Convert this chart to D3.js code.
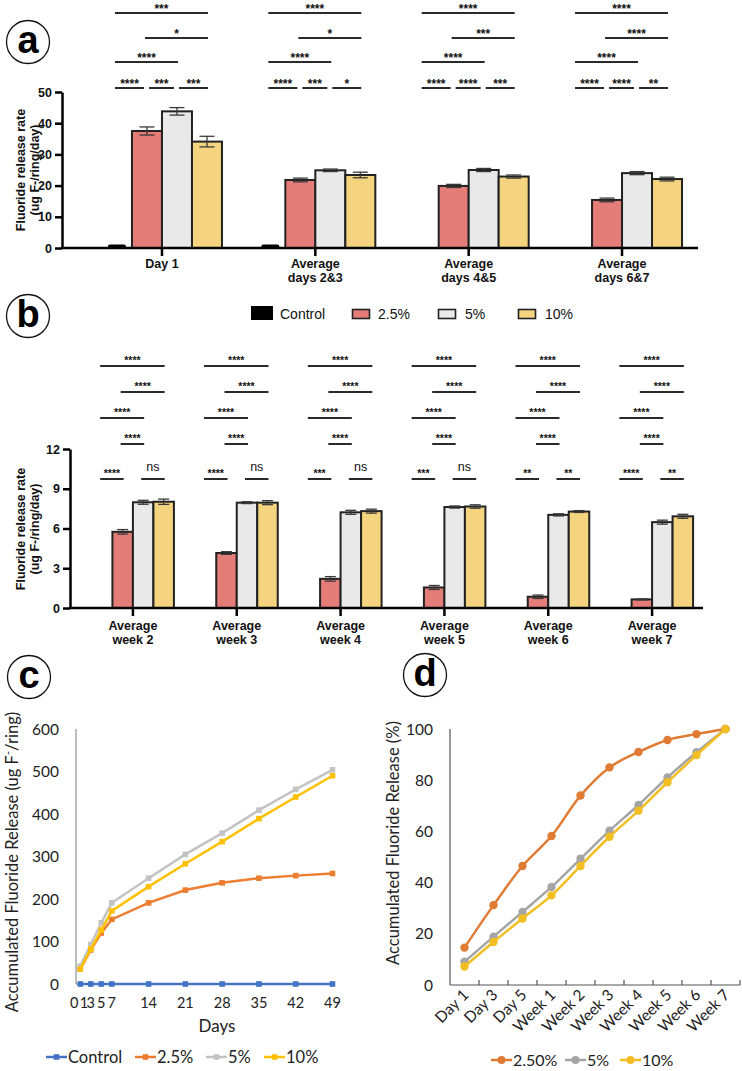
<!DOCTYPE html>
<html>
<head>
<meta charset="utf-8">
<script src="https://cdn.jsdelivr.net/npm/d3@7"></script>
<style>
  body { margin: 0; background: #fff; }
  svg { display: block; }
</style>
</head>
<body>
<svg id="fig" width="742" height="1071"></svg>
<script>
// ---- data ----
const seriesNames = ['Control', '2.5%', '5%', '10%'];

// panel a: release rate, first week
const groupsA = ['Day 1', 'Average|days 2&3', 'Average|days 4&5', 'Average|days 6&7'];
const controlA = [0, 0, null, null];
const p25A = [37.5, 21.8, 19.9, 15.4];
const p5A = [43.8, 24.9, 25.0, 24.0];
const p10A = [34.1, 23.4, 22.9, 22.1];
const p25ErrA = [1.3, 0.6, 0.5, 0.6];
const p5ErrA = [1.2, 0.4, 0.5, 0.5];
const p10ErrA = [1.7, 0.9, 0.5, 0.6];
const ticksA = [0, 10, 20, 30, 40, 50];
// order: C-2.5, 2.5-5, 5-10, C-5, 2.5-10, C-10
const sigA = [
  ['****', '***', '***', '****', '*', '***'],
  ['****', '***', '*', '****', '*', '****'],
  ['****', '****', '***', '****', '***', '****'],
  ['****', '****', '**', '****', '****', '****']
];

// panel b: release rate, weeks 2-7
const groupsB = ['Average|week 2', 'Average|week 3', 'Average|week 4', 'Average|week 5', 'Average|week 6', 'Average|week 7'];
const controlB = [null, null, null, null, null, null];
const p25B = [5.75, 4.15, 2.2, 1.55, 0.85, 0.65];
const p5B = [7.98, 7.95, 7.22, 7.62, 7.03, 6.48];
const p10B = [8.02, 7.95, 7.31, 7.66, 7.28, 6.92];
const p25ErrB = [0.17, 0.1, 0.17, 0.15, 0.13, 0.04];
const p5ErrB = [0.15, 0.07, 0.15, 0.08, 0.08, 0.15];
const p10ErrB = [0.2, 0.15, 0.15, 0.13, 0.07, 0.15];
const ticksB = [0, 3, 6, 9, 12];
// order: C-2.5, 5-10, 2.5-5, C-5, 2.5-10, C-10
const sigB = [
  ['****', 'ns', '****', '****', '****', '****'],
  ['****', 'ns', '****', '****', '****', '****'],
  ['***', 'ns', '****', '****', '****', '****'],
  ['***', 'ns', '****', '****', '****', '****'],
  ['**', '**', '****', '****', '****', '****'],
  ['****', '**', '****', '****', '****', '****']
];

// panel c: accumulated release (ug F-/ring)
const daysC = [1, 3, 5, 7, 14, 21, 28, 35, 42, 49];
const dayTicksC = [0, 1, 3, 5, 7, 14, 21, 28, 35, 42, 49];
const controlC = [0, 0, 0, 0, 0, 0, 0, 0, 0, 0];
const p25C = [35, 80, 120, 152, 191, 221, 238, 249, 255, 260];
const p5C = [42, 93, 144, 191, 249, 305, 355, 409, 458, 504];
const p10C = [35, 82, 127, 172, 229, 283, 335, 389, 440, 490];
const ticksC = [0, 100, 200, 300, 400, 500, 600];

// panel d: accumulated release (%)
const catsD = ['Day 1', 'Day 3', 'Day 5', 'Week 1', 'Week 2', 'Week 3', 'Week 4', 'Week 5', 'Week 6', 'Week 7'];
const p25D = [14.6, 31.2, 46.5, 58.2, 74, 85, 91, 95.7, 98, 100];
const p5D = [9.1, 18.9, 28.5, 38.3, 49.3, 60.3, 70.3, 81.1, 90.9, 100];
const p10D = [7.2, 16.8, 26, 35, 46.5, 57.9, 68.1, 79.2, 89.8, 100];
const ticksD = [0, 20, 40, 60, 80, 100];

// ---- styles ----
const barColors = ['#000000', '#E47C78', '#E9E9E9', '#F4D47E'];
const prism = '"Liberation Sans", Arial, sans-serif';
const excel = 'Lato, "Open Sans", sans-serif';

const svg = d3.select('#fig');

function panelLetter(cx, cy, letter) {
  svg.append('circle').attr('cx', cx).attr('cy', cy).attr('r', 21.5)
    .attr('fill', 'none').attr('stroke', '#111').attr('stroke-width', 1.3);
  svg.append('text').attr('x', cx).attr('y', cy + 11).attr('text-anchor', 'middle')
    .attr('font-family', prism).attr('font-weight', 'bold').attr('font-size', 38)
    .text(letter);
}

function barPanel(o) {
  const g = svg.append('g');
  const y = d3.scaleLinear().domain([0, o.yMax]).range([o.yBase, o.yTop]);
  const x0 = d3.scaleBand().domain(o.groups).range(o.xRange);
  const x1 = d3.scaleBand().domain(seriesNames).range([0, o.barW * 4]);
  const off = (x0.bandwidth() - o.barW * 4) / 2;
  const cx = (gi, si) => x0(o.groups[gi]) + off + x1(seriesNames[si]) + o.barW / 2;

  const rows = [];
  o.values.forEach((vals, si) => vals.forEach((v, gi) => {
    if (v != null) rows.push({ gi, si, v, e: o.errs[si] ? o.errs[si][gi] : 0 });
  }));

  // bars
  g.selectAll('rect.bar').data(rows.filter(d => d.v > 0)).join('rect')
    .attr('class', 'bar')
    .attr('x', d => cx(d.gi, d.si) - o.barW / 2)
    .attr('y', d => y(d.v))
    .attr('width', o.barW)
    .attr('height', d => y(0) - y(d.v))
    .attr('fill', d => barColors[d.si])
    .attr('stroke', '#222').attr('stroke-width', 2);

  // zero-height control bars
  g.selectAll('rect.zero').data(rows.filter(d => d.v === 0)).join('rect')
    .attr('class', 'zero')
    .attr('x', d => cx(d.gi, d.si) - o.barW * 0.3)
    .attr('y', y(0) - 3.5)
    .attr('width', o.barW * 0.6).attr('height', 4).attr('rx', 2)
    .attr('fill', '#000');

  // error bars
  const eb = g.selectAll('g.err').data(rows.filter(d => d.e > 0)).join('g').attr('class', 'err')
    .attr('stroke', '#3a3a3a').attr('stroke-width', 1.3);
  eb.append('line')
    .attr('x1', d => cx(d.gi, d.si)).attr('x2', d => cx(d.gi, d.si))
    .attr('y1', d => y(d.v + d.e)).attr('y2', d => y(d.v - d.e));
  eb.append('line')
    .attr('x1', d => cx(d.gi, d.si) - o.cap / 2).attr('x2', d => cx(d.gi, d.si) + o.cap / 2)
    .attr('y1', d => y(d.v + d.e)).attr('y2', d => y(d.v + d.e));
  eb.append('line')
    .attr('x1', d => cx(d.gi, d.si) - o.cap / 2).attr('x2', d => cx(d.gi, d.si) + o.cap / 2)
    .attr('y1', d => y(d.v - d.e)).attr('y2', d => y(d.v - d.e));

  // y axis
  const ya = g.append('g').attr('transform', `translate(${o.xAxis},0)`)
    .call(d3.axisLeft(y).tickValues(o.ticks).tickSize(7).tickSizeOuter(0).tickPadding(3));
  ya.selectAll('path, line').attr('stroke', '#000').attr('stroke-width', 2.5);
  ya.selectAll('text').attr('font-family', prism).attr('font-weight', 'bold')
    .attr('font-size', 12.5).attr('fill', '#111');

  // x axis
  g.append('line').attr('x1', o.xAxis - 1).attr('x2', o.xEnd)
    .attr('y1', y(0)).attr('y2', y(0)).attr('stroke', '#000').attr('stroke-width', 2.5);
  const xa = g.append('g').attr('transform', `translate(0,${y(0)})`)
    .call(d3.axisBottom(x0).tickSize(8).tickSizeOuter(0).tickFormat(''));
  xa.select('.domain').remove();
  xa.selectAll('line').attr('stroke', '#000').attr('stroke-width', 2.5);
  const lbl = g.selectAll('text.xl').data(o.groups).join('text').attr('class', 'xl')
    .attr('text-anchor', 'middle').attr('font-family', prism).attr('font-weight', 'bold')
    .attr('font-size', 12.5).attr('fill', '#111');
  lbl.selectAll('tspan').data(d => d.split('|').map(t => ({ t, c: x0(d) + x0.bandwidth() / 2 })))
    .join('tspan')
    .attr('x', d => d.c)
    .attr('y', (d, i) => y(0) + o.labelDy + i * 13.5)
    .text(d => d.t);

  // axis title
  const tt = g.append('text').attr('transform', `translate(${o.titleX},${o.titleY}) rotate(-90)`)
    .attr('text-anchor', 'middle').attr('font-family', prism).attr('font-weight', 'bold')
    .attr('font-size', 12.5).attr('fill', '#111');
  tt.append('tspan').attr('x', 0).attr('y', 0).text('Fluoride release rate');
  tt.append('tspan').attr('x', 0).attr('y', 14).text('(ug F-/ring/day)');

  // significance brackets
  const br = [];
  o.sig.forEach((labels, gi) => labels.forEach((lab, k) => {
    const [i, j, row] = o.pairs[k];
    let xa1 = cx(gi, i) - 2, xa2 = cx(gi, j) + 1;
    if (row === 0 && o.trim) { if (i > 0) xa1 += 4; if (j < 3) xa2 -= 4; }
    br.push({ x1: xa1, x2: xa2, y: o.rowY[row], lab });
  }));
  g.selectAll('line.br').data(br).join('line').attr('class', 'br')
    .attr('x1', d => d.x1).attr('x2', d => d.x2).attr('y1', d => d.y).attr('y2', d => d.y)
    .attr('stroke', '#2a2a2a').attr('stroke-width', 2);
  g.selectAll('text.sig').data(br).join('text').attr('class', 'sig')
    .attr('x', d => (d.x1 + d.x2) / 2)
    .attr('y', d => d.lab === 'ns' ? d.y - 8 : d.y - o.starDy)
    .attr('text-anchor', 'middle').attr('font-family', prism)
    .attr('font-weight', d => d.lab === 'ns' ? 'normal' : 'bold')
    .attr('font-size', d => d.lab === 'ns' ? 12.5 : o.starSize)
    .attr('fill', '#111')
    .text(d => d.lab);
}

// ---- panel a ----
panelLetter(28, 42, 'a');
barPanel({
  groups: groupsA, values: [controlA, p25A, p5A, p10A], errs: [null, p25ErrA, p5ErrA, p10ErrA],
  yMax: 50, ticks: ticksA, yBase: 248, yTop: 92, xRange: [85.3, 698.7], barW: 30, cap: 15,
  xAxis: 62, xEnd: 698, labelDy: 20, titleX: 25, titleY: 170,
  sig: sigA, pairs: [[0, 1, 0], [1, 2, 0], [2, 3, 0], [0, 2, 1], [1, 3, 2], [0, 3, 3]],
  rowY: [88, 62, 38, 13], trim: true, starSize: 12, starDy: 0
});

// legend for a & b
const legX = [251, 352, 438, 518];
const legTx = [280, 378, 465, 545];
const leg = svg.append('g');
seriesNames.forEach((s, i) => {
  if (i === 0) {
    leg.append('rect').attr('x', legX[i]).attr('y', 306).attr('width', 22).attr('height', 14).attr('fill', '#000');
  } else {
    leg.append('rect').attr('x', legX[i] + 0.5).attr('y', 309.5).attr('width', 17).attr('height', 9)
      .attr('fill', barColors[i]).attr('stroke', '#222').attr('stroke-width', 1.6);
  }
  leg.append('text').attr('x', legTx[i]).attr('y', 319).attr('font-family', prism)
    .attr('font-size', 14).attr('fill', '#111').text(s);
});

// ---- panel b ----
panelLetter(28, 316, 'b');
barPanel({
  groups: groupsB, values: [controlB, p25B, p5B, p10B], errs: [null, p25ErrB, p5ErrB, p10ErrB],
  yMax: 12, ticks: ticksB, yBase: 608, yTop: 449, xRange: [81, 704], barW: 20.5, cap: 11,
  xAxis: 70, xEnd: 703, labelDy: 22, titleX: 25, titleY: 529,
  sig: sigB, pairs: [[0, 1, 0], [2, 3, 0], [1, 2, 1], [0, 2, 2], [1, 3, 3], [0, 3, 4]],
  rowY: [479, 444, 418, 392, 366], trim: false, starSize: 10.5, starDy: 2
});

// ---- panel c ----
panelLetter(29, 677, 'c');
(function () {
  const g = svg.append('g');
  const x = d3.scaleLinear().domain([0, 49]).range([75, 332.5]);
  const y = d3.scaleLinear().domain([0, 600]).range([984, 729]);
  const series = [
    { name: 'Control', vals: controlC, color: '#4472C4' },
    { name: '2.5%', vals: p25C, color: '#ED7D31' },
    { name: '5%', vals: p5C, color: '#C3C3C3' },
    { name: '10%', vals: p10C, color: '#FFC000' }
  ];
  g.append('line').attr('x1', 76).attr('x2', 76).attr('y1', y(600)).attr('y2', y(0))
    .attr('stroke', '#9a9a9a').attr('stroke-width', 1.3);
  g.append('line').attr('x1', 76).attr('x2', 334).attr('y1', y(0)).attr('y2', y(0))
    .attr('stroke', '#9a9a9a').attr('stroke-width', 1.3);
  g.selectAll('text.yt').data(ticksC).join('text').attr('class', 'yt')
    .attr('x', 59).attr('y', d => y(d) + 5.5).attr('text-anchor', 'end')
    .attr('font-family', excel).attr('font-size', 15.5).attr('fill', '#222').text(d => d);
  // "0" and "1" sit side by side, so anchor them away from each other
  g.selectAll('text.xt').data(dayTicksC).join('text').attr('class', 'xt')
    .attr('x', d => d === 0 ? x(d) + 3.5 : d === 1 ? x(d) - 0.5 : x(d))
    .attr('y', 1008)
    .attr('text-anchor', d => d === 0 ? 'end' : d === 1 ? 'start' : 'middle')
    .attr('font-family', excel).attr('font-size', 14.5).attr('fill', '#222').text(d => d);
  g.append('text').attr('x', 217).attr('y', 1032).attr('text-anchor', 'middle')
    .attr('font-family', excel).attr('font-size', 17).attr('fill', '#222').text('Days');
  const yt = g.append('text').attr('transform', 'translate(18,862) rotate(-90)')
    .attr('text-anchor', 'middle').attr('font-family', excel).attr('font-size', 16.5).attr('fill', '#222');
  yt.append('tspan').text('Accumulated Fluoride Release (ug F');
  yt.append('tspan').attr('dy', -6).attr('font-size', 11).text('-');
  yt.append('tspan').attr('dy', 6).text('/ring)');

  const line = d3.line().x((d, i) => x(daysC[i])).y(d => y(d));
  series.forEach(s => {
    g.append('path').attr('d', line(s.vals)).attr('fill', 'none')
      .attr('stroke', s.color).attr('stroke-width', 2.5);
    g.selectAll(null).data(s.vals).join('rect')
      .attr('x', (d, i) => x(daysC[i]) - 2.8).attr('y', d => y(d) - 2.8)
      .attr('width', 5.6).attr('height', 5.6).attr('fill', s.color);
  });

  const lx = [46, 135, 206, 264];
  series.forEach((s, i) => {
    g.append('line').attr('x1', lx[i]).attr('x2', lx[i] + 21).attr('y1', 1057).attr('y2', 1057)
      .attr('stroke', s.color).attr('stroke-width', 2.5);
    g.append('rect').attr('x', lx[i] + 7.7).attr('y', 1054.2).attr('width', 5.6).attr('height', 5.6).attr('fill', s.color);
    g.append('text').attr('x', lx[i] + 22).attr('y', 1063).attr('font-family', excel)
      .attr('font-size', 16.5).attr('fill', '#222').text(s.name);
  });
})();

// ---- panel d ----
panelLetter(425, 675, 'd');
(function () {
  const g = svg.append('g');
  const x = d3.scaleBand().domain(catsD).range([450, 740]);
  const y = d3.scaleLinear().domain([0, 100]).range([985, 729]);
  const series = [
    { name: '2.50%', vals: p25D, color: '#E07B34' },
    { name: '5%', vals: p5D, color: '#A5A5A5' },
    { name: '10%', vals: p10D, color: '#F2BE22' }
  ];
  g.append('line').attr('x1', 450).attr('x2', 450).attr('y1', y(100)).attr('y2', y(0))
    .attr('stroke', '#555').attr('stroke-width', 1.2);
  g.append('line').attr('x1', 450).attr('x2', 740).attr('y1', y(0)).attr('y2', y(0))
    .attr('stroke', '#555').attr('stroke-width', 1.2);
  g.selectAll('line.tk').data(catsD).join('line').attr('class', 'tk')
    .attr('x1', d => x(d) + x.bandwidth()).attr('x2', d => x(d) + x.bandwidth())
    .attr('y1', y(0)).attr('y2', y(0) - 5).attr('stroke', '#555').attr('stroke-width', 1.2);
  g.selectAll('text.yt').data(ticksD).join('text').attr('class', 'yt')
    .attr('x', 433).attr('y', d => y(d) + 5.5).attr('text-anchor', 'end')
    .attr('font-family', excel).attr('font-size', 15.5).attr('fill', '#222').text(d => d);
  g.selectAll('text.xt').data(catsD).join('text').attr('class', 'xt')
    .attr('transform', d => `translate(${x(d) + x.bandwidth() / 2 + 5},${996}) rotate(-45)`)
    .attr('text-anchor', 'end').attr('font-family', excel).attr('font-size', 15.5)
    .attr('fill', '#222').text(d => d);
  g.append('text').attr('transform', 'translate(399,843) rotate(-90)')
    .attr('text-anchor', 'middle').attr('font-family', excel).attr('font-size', 16.5)
    .attr('fill', '#222').text('Accumulated Fluoride Release (%)');

  const line = d3.line().x((d, i) => x(catsD[i]) + x.bandwidth() / 2).y(d => y(d))
    .curve(d3.curveCatmullRom.alpha(0.5));
  series.forEach(s => {
    g.append('path').attr('d', line(s.vals)).attr('fill', 'none')
      .attr('stroke', s.color).attr('stroke-width', 2.5);
    g.selectAll(null).data(s.vals).join('circle')
      .attr('cx', (d, i) => x(catsD[i]) + x.bandwidth() / 2).attr('cy', d => y(d))
      .attr('r', 4.2).attr('fill', s.color);
  });

  const lx = [491, 565, 620];
  series.forEach((s, i) => {
    g.append('line').attr('x1', lx[i]).attr('x2', lx[i] + 21).attr('y1', 1060).attr('y2', 1060)
      .attr('stroke', s.color).attr('stroke-width', 2.5);
    g.append('circle').attr('cx', lx[i] + 10.5).attr('cy', 1060).attr('r', 4).attr('fill', s.color);
    g.append('text').attr('x', lx[i] + 22).attr('y', 1066).attr('font-family', excel)
      .attr('font-size', 16).attr('fill', '#222').text(s.name);
  });
})();
</script>
</body>
</html>
